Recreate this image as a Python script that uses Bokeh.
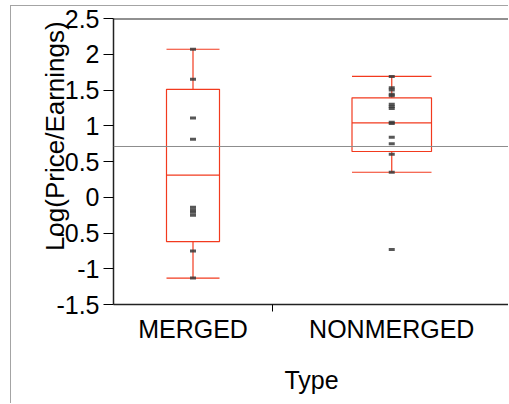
from bokeh.plotting import figure
from bokeh.models import Range1d, FixedTicker, Span
from bokeh.embed import file_html
from bokeh.resources import INLINE

# ---- data ----
categories = ["MERGED", "NONMERGED"]
merged_points = [2.07, 1.65, 1.11, 0.81, -0.14, -0.18, -0.21, -0.25, -0.75, -1.13]
nonmerged_points = [1.69, 1.53, 1.50, 1.44, 1.42, 1.30, 1.27, 1.24, 1.05, 1.03,
                    0.84, 0.75, 0.60, 0.35, -0.73]
whisker_high = [2.07, 1.69]
quart_3 = [1.51, 1.39]
median = [0.31, 1.04]
quart_1 = [-0.62, 0.64]
whisker_low = [-1.13, 0.35]
grand_mean = 0.71
y_ticks = [-1.5, -1.0, -0.5, 0.0, 0.5, 1.0, 1.5, 2.0, 2.5]
y_tick_labels = ["-1.5", "-1", "-0.5", "0", "0.5", "1", "1.5", "2", "2.5"]
y_title = "Log(Price/Earnings)"
x_title = "Type"

FONT = "Liberation Sans"
RED = "#F23A1E"

groups = [merged_points, nonmerged_points]
counts = [len(g) for g in groups]
lefts, centers, rights = [], [], []
acc = 0
for n in counts:
    lefts.append(acc)
    centers.append(acc + n / 2)
    rights.append(acc + n)
    acc += n

W, H = 498, 398
MB_LEFT, MB_TOP = 102, 12
FRAME_H = 286
px_per_unit = 159 / counts[0]
x_end = (W - MB_LEFT) / px_per_unit

p = figure(width=W, height=H, output_backend="svg", toolbar_location=None,
           x_range=Range1d(0, x_end), y_range=Range1d(-1.5, 2.5),
           min_border_left=MB_LEFT, min_border_top=MB_TOP, min_border_right=0,
           min_border_bottom=H - MB_TOP - FRAME_H,
           background_fill_color="white", border_fill_color="white",
           outline_line_color=None,
           margin=(5, 0, 0, 10),
           styles={"border-left": "1px solid #a4a4a4", "border-top": "1px solid #a4a4a4"})
p.xgrid.grid_line_color = None
p.ygrid.grid_line_color = None

# grand mean line
p.add_layout(Span(location=grand_mean, dimension="width", line_color="#8c8c8c", line_width=1))
# frame top line
p.add_layout(Span(location=2.5, dimension="width", line_color="#222222", line_width=2))

# boxes
half = [(r - l) / 6 for l, r in zip(lefts, rights)]
bl = [c - h for c, h in zip(centers, half)]
br = [c + h for c, h in zip(centers, half)]
p.quad(left=bl, right=br, top=quart_3, bottom=quart_1, fill_color=None,
       line_color=RED, line_width=1.2)
p.segment(x0=bl, x1=br, y0=median, y1=median, line_color=RED, line_width=1.2)
p.segment(x0=centers, x1=centers, y0=quart_3, y1=whisker_high, line_color=RED, line_width=1.2)
p.segment(x0=centers, x1=centers, y0=quart_1, y1=whisker_low, line_color=RED, line_width=1.2)
p.segment(x0=bl, x1=br, y0=whisker_high, y1=whisker_high, line_color=RED, line_width=1.2)
p.segment(x0=bl, x1=br, y0=whisker_low, y1=whisker_low, line_color=RED, line_width=1.2)

# points (small dark rectangles)
for c, pts in zip(centers, groups):
    p.rect(x=[c] * len(pts), y=pts, width=6, height=3, width_units="screen",
           height_units="screen", fill_color="#3a3a3a", fill_alpha=0.85,
           line_color=None)

# x axis
xa = p.xaxis[0]
xa.ticker = FixedTicker(ticks=centers, minor_ticks=rights[:-1])
xa.major_label_overrides = {c: name for c, name in zip(centers, categories)}
xa.major_tick_out = 0
xa.major_tick_in = 0
xa.minor_tick_out = 7
xa.minor_tick_in = 0
xa.minor_tick_line_color = "black"
xa.axis_line_color = "#222222"
xa.axis_line_width = 1.5
xa.major_label_text_font = FONT
xa.major_label_text_font_size = "25px"
xa.major_label_text_color = "black"
xa.major_label_standoff = 3
xa.axis_label = x_title
xa.axis_label_text_font = FONT
xa.axis_label_text_font_size = "25px"
xa.axis_label_text_font_style = "normal"
xa.axis_label_text_color = "black"
xa.axis_label_standoff = 20

# y axis; its title overlaps the tick labels as in the reference
ya = p.yaxis[0]
ya.ticker = FixedTicker(ticks=y_ticks)
ya.major_label_overrides = {t: s for t, s in zip(y_ticks, y_tick_labels)}
ya.major_tick_out = 10
ya.major_tick_in = 0
ya.minor_tick_out = 0
ya.minor_tick_in = 0
ya.major_tick_line_color = "black"
ya.axis_line_color = "#222222"
ya.axis_line_width = 1.5
ya.major_label_text_font = FONT
ya.major_label_text_font_size = "25px"
ya.major_label_text_color = "black"
ya.major_label_standoff = 4
ya.axis_label = "\u00a0" * 7 + y_title
ya.axis_label_text_font = FONT
ya.axis_label_text_font_size = "26px"
ya.axis_label_text_font_style = "normal"
ya.axis_label_text_color = "black"
ya.axis_label_standoff = -17

open("out.html", "w").write(file_html(p, INLINE))
